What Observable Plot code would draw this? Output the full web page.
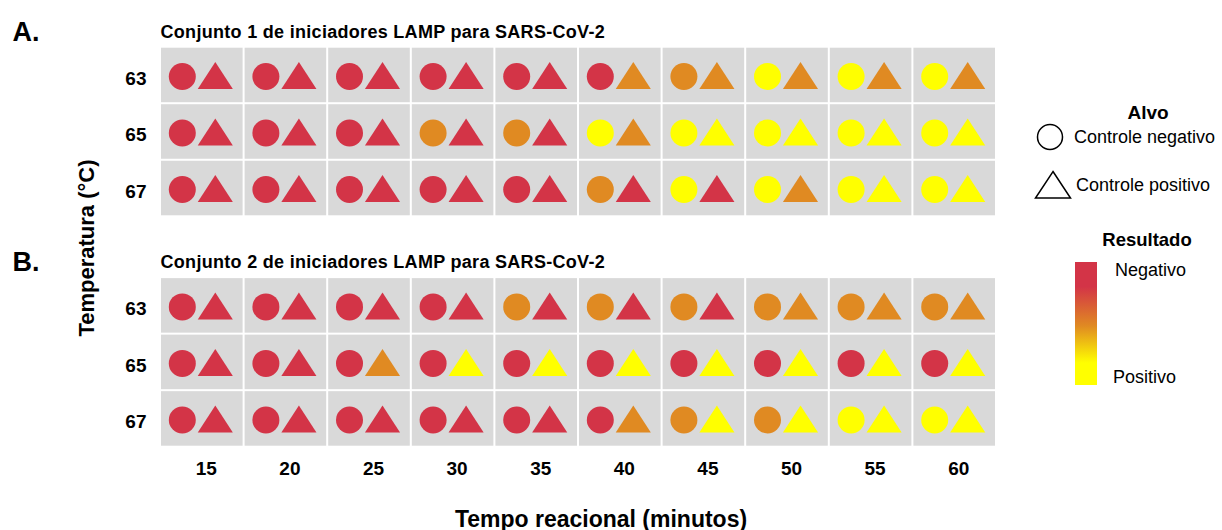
<!DOCTYPE html>
<html>
<head>
<meta charset="utf-8">
<script src="https://cdn.jsdelivr.net/npm/d3@7"></script>
<script src="https://cdn.jsdelivr.net/npm/@observablehq/plot@0.6"></script>
<style>
  html, body { margin: 0; padding: 0; background: #fff; }
  #wrap { position: relative; width: 1222px; height: 530px; font-family: "Liberation Sans", Arial, sans-serif; color: #000; }
  #chart { position: absolute; left: 0; top: 0; }
  .abs { position: absolute; white-space: nowrap; }
  .b { font-weight: bold; }
</style>
</head>
<body>
<div id="wrap">
  <div id="chart"></div>
  <div class="abs b" id="ytitle" style="left:87px; top:248px; font-size:22px; transform: translate(-50%,-50%) rotate(-90deg);">Temperatura (°C)</div>
  <div class="abs b" id="xtitle" style="left:601px; top:519px; font-size:23px; transform: translate(-50%,-50%);">Tempo reacional (minutos)</div>
  <div id="legend"></div>
</div>
<script>
// ---- data ----
const times = [15, 20, 25, 30, 35, 40, 45, 50, 55, 60];
const temps = ["63", "65", "67"];
const panels = ["A", "B"];
const panelLabels = ["A.", "B."];
const panelTitles = [
  "Conjunto 1 de iniciadores LAMP para SARS-CoV-2",
  "Conjunto 2 de iniciadores LAMP para SARS-CoV-2"
];
const alvoLabels = ["Controle negativo", "Controle positivo"];
const resultadoLabels = ["Negativo", "Positivo"];
// result code: 0 = Negativo (red), 1 = intermediate (orange), 2 = Positivo (yellow)
// rows: 63, 65, 67 ; columns: 15..60 min
const setA_negativeControl = [
  [0, 0, 0, 0, 0, 0, 1, 2, 2, 2],
  [0, 0, 0, 1, 1, 2, 2, 2, 2, 2],
  [0, 0, 0, 0, 0, 1, 2, 2, 2, 2]
];
const setA_positiveControl = [
  [0, 0, 0, 0, 0, 1, 1, 1, 1, 1],
  [0, 0, 0, 0, 0, 1, 2, 2, 2, 2],
  [0, 0, 0, 0, 0, 0, 0, 1, 2, 2]
];
const setB_negativeControl = [
  [0, 0, 0, 0, 1, 1, 1, 1, 1, 1],
  [0, 0, 0, 0, 0, 0, 0, 0, 0, 0],
  [0, 0, 0, 0, 0, 0, 1, 1, 2, 2]
];
const setB_positiveControl = [
  [0, 0, 0, 0, 0, 0, 0, 1, 1, 1],
  [0, 0, 1, 2, 2, 2, 2, 2, 2, 2],
  [0, 0, 0, 0, 0, 1, 2, 2, 2, 2]
];
const resultDomain = [0, 1, 2];
const resultColors = ["#d33447", "#e08a22", "#ffff00"];

// ---- tables ----
function toRows(panel, grid) {
  return grid.flatMap((row, i) => row.map((v, j) => ({panel, temp: temps[i], time: times[j], result: v})));
}
const negData = [...toRows("A", setA_negativeControl), ...toRows("B", setB_negativeControl)];
const posData = [...toRows("A", setA_positiveControl), ...toRows("B", setB_positiveControl)];
const cells = panels.flatMap(panel => temps.flatMap(temp => times.map(time => ({panel, temp, time}))));
const titles = panels.map((p, i) => ({panel: p, title: panelTitles[i], label: panelLabels[i]}));

const triangle = {
  draw(context, size) {
    const r = Math.sqrt(size / Math.PI);
    context.moveTo(0, -r);
    context.lineTo(1.3 * r, r);
    context.lineTo(-1.3 * r, r);
    context.closePath();
  }
};

const chart = Plot.plot({
  width: 1010,
  height: 530,
  marginLeft: 160,
  marginRight: 14,
  marginTop: 46.7,
  marginBottom: 83.3,
  style: {fontFamily: "'Liberation Sans', Arial, sans-serif", fontWeight: "bold", fontSize: "19px", color: "#000", background: "transparent"},
  x: {type: "band", domain: times, padding: 0, round: false, label: null},
  y: {type: "band", domain: temps, padding: 0, round: false, label: null},
  fy: {domain: panels, paddingInner: 0.264, paddingOuter: 0, round: false, axis: null, label: null},
  color: {type: "linear", domain: resultDomain, range: resultColors},
  marks: [
    Plot.cell(cells, {x: "time", y: "temp", fy: "panel", fill: "#d9d9d9", inset: 1}),
    Plot.dot(negData, {x: "time", y: "temp", fy: "panel", fill: "result", symbol: "circle", r: 13.5, dx: -20, dy: 1}),
    Plot.dot(posData, {x: "time", y: "temp", fy: "panel", fill: "result", symbol: triangle, r: 13.5, dx: 13}),
    Plot.axisX({tickSize: 0, tickPadding: 14, fontSize: 19, dx: 4, label: null}),
    Plot.axisY({tickSize: 0, tickPadding: 14, fontSize: 19, dy: 3, label: null}),
    Plot.text(titles, {fy: "panel", text: "title", frameAnchor: "top-left", textAnchor: "start", lineAnchor: "middle", dy: -15, fontSize: 18}),
    Plot.text(titles, {fy: "panel", text: "label", frameAnchor: "top-left", textAnchor: "start", lineAnchor: "middle", dx: -148, dy: -15, fontSize: 27})
  ]
});
document.getElementById("chart").appendChild(chart);
chart.querySelectorAll("text").forEach(t => { if (t.textContent.startsWith("Conjunto")) t.setAttribute("letter-spacing", "0.3"); });

// ---- legend ----
const lg = document.getElementById("legend");
lg.innerHTML = `
  <div class="abs b" style="left:1148px; top:113px; font-size:19px; transform: translate(-50%,-50%);">Alvo</div>
  <svg class="abs" style="left:1034px; top:121px;" width="32" height="32"><circle cx="16" cy="16" r="12.5" fill="none" stroke="#000" stroke-width="1.5"/></svg>
  <div class="abs" style="left:1074px; top:137px; font-size:18px; transform: translateY(-50%);">${alvoLabels[0]}</div>
  <svg class="abs" style="left:1033px; top:169px;" width="40" height="32"><path d="M20,2.5 L37.5,29 L2.5,29 Z" fill="none" stroke="#000" stroke-width="1.5"/></svg>
  <div class="abs" style="left:1076px; top:185px; font-size:18px; transform: translateY(-50%);">${alvoLabels[1]}</div>
  <div class="abs b" style="left:1147px; top:240px; font-size:18.5px; transform: translate(-50%,-50%);">Resultado</div>
  <div class="abs" style="left:1075px; top:262px; width:22px; height:123px; background: linear-gradient(to bottom, ${resultColors[0]} 0%, ${resultColors[0]} 20%, ${resultColors[1]} 52%, ${resultColors[2]} 82%, ${resultColors[2]} 100%);"></div>
  <div class="abs" style="left:1115px; top:270px; font-size:18px; transform: translateY(-50%);">${resultadoLabels[0]}</div>
  <div class="abs" style="left:1113px; top:377px; font-size:18px; transform: translateY(-50%);">${resultadoLabels[1]}</div>
`;
</script>
</body>
</html>
